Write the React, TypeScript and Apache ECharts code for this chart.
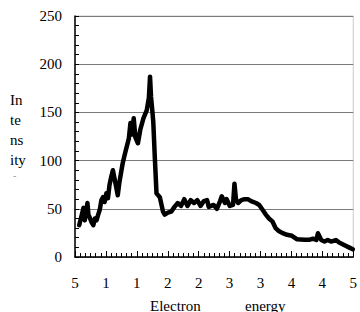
import React, { useEffect, useRef } from "react";
import * as echarts from "echarts";

const xTickLabels = ["5", "1", "1", "2", "2", "3", "3", "4", "4", "5"];
const yTicks = [0, 50, 100, 150, 200, 250];
const yTitleLines = ["In", "te", "ns", "ity"];
const xTitleWords = ["Electron", "energy"];

const positions = [
  0.136, 0.222, 0.275, 0.316, 0.402, 0.434, 0.475, 0.538, 0.592, 0.642, 0.696, 0.75, 0.801,
  0.854, 0.908, 0.959, 1.013, 1.066, 1.117, 1.171, 1.225, 1.275, 1.329, 1.383, 1.434, 1.487,
  1.541, 1.592, 1.646, 1.687, 1.741, 1.794, 1.845, 1.899, 1.953, 2.035, 2.111, 2.215, 2.32,
  2.389, 2.427, 2.459, 2.5, 2.532, 2.585, 2.636, 2.744, 2.848, 2.902, 3.006, 3.111, 3.218,
  3.323, 3.427, 3.535, 3.639, 3.744, 3.851, 3.956, 4.06, 4.168, 4.272, 4.326, 4.484, 4.589,
  4.693, 4.747, 4.851, 4.905, 5.009, 5.111, 5.158, 5.206, 5.275, 5.38, 5.484, 5.592, 5.696,
  5.854, 5.959, 6.066, 6.171, 6.275, 6.383, 6.487, 6.592, 6.699, 6.858, 7.016, 7.174, 7.437,
  7.595, 7.699, 7.807, 7.858, 7.965, 8.07, 8.174, 8.282, 8.44, 8.544, 8.703, 8.861, 8.987,
];
const intensity = [
  33, 44, 51, 38, 56, 44, 41, 36, 33, 40, 38, 44, 49,
  59, 62, 57, 66, 61, 75, 83, 90, 82, 73, 64, 77, 87,
  97, 104, 111, 116, 123, 139, 127, 144, 124, 118, 132, 144, 152,
  165, 187, 166, 152, 140, 101, 66, 62, 47, 44, 46, 47, 52,
  56, 53, 60, 53, 59, 56, 59, 53, 58, 59, 52, 54, 50,
  58, 63, 56, 60, 53, 54, 76, 60, 56, 59, 60, 60, 58,
  56, 54, 49, 44, 40, 37, 30, 27, 25, 23, 22, 18.5, 18,
  18, 19, 17.6, 24.6, 17.6, 16, 17.6, 16, 17.6, 15, 12.5, 10, 8,
];

const FONT = "Liberation Serif";

export default function App() {
  const ref = useRef<HTMLDivElement>(null);
  useEffect(() => {
    if (!ref.current) return;
    document.body.style.margin = "0";
    const chart = echarts.init(ref.current, null, { renderer: "svg" });
    const data = positions.map((p, i) => [p, intensity[i]]);
    chart.setOption({
      animation: false,
      textStyle: { fontFamily: FONT, fontStyle: "normal", fontWeight: "normal" },
      grid: {
        left: 75,
        right: 1,
        top: 16,
        bottom: 55,
        show: true,
        borderColor: "#c8c8c8",
        borderWidth: 1,
        backgroundColor: "transparent",
      },
      xAxis: {
        type: "value",
        min: 0,
        max: xTickLabels.length - 1,
        interval: 1,
        axisLine: { show: true, onZero: false, lineStyle: { color: "#000", width: 1.5 } },
        axisTick: { show: true, inside: true, length: 6, lineStyle: { color: "#000", width: 1 } },
        minorTick: { show: true, splitNumber: 6, length: 4, lineStyle: { color: "#000", width: 1 } },
        splitLine: { show: false },
        axisLabel: {
          color: "#000",
          fontFamily: FONT,
          fontStyle: "normal",
          fontWeight: "normal",
          fontSize: 15,
          margin: 18,
          formatter: (v: number) => xTickLabels[Math.round(v)] ?? "",
        },
      },
      yAxis: {
        type: "value",
        min: yTicks[0],
        max: yTicks[yTicks.length - 1],
        interval: 50,
        axisLine: { show: true, lineStyle: { color: "#000", width: 1.5 } },
        axisTick: { show: true, inside: true, length: 4, lineStyle: { color: "#000", width: 1 } },
        minorTick: { show: true, splitNumber: 5, length: 4, lineStyle: { color: "#000", width: 1 } },
        splitLine: { show: true, lineStyle: { color: "#7a7a7a", width: 1 } },
        axisLabel: {
          color: "#000",
          fontFamily: FONT,
          fontStyle: "normal",
          fontWeight: "normal",
          fontSize: 15,
          margin: 13,
        },
      },
      graphic: [
        ...yTitleLines.map((t, i) => ({
          type: "text",
          left: 10,
          top: 92 + i * 20,
          style: { text: t, fill: "#000", fontFamily: FONT, fontWeight: "normal", fontSize: 15 },
        })),
        {
          type: "text",
          left: 13,
          top: 170,
          style: { text: "-", fill: "#999", fontFamily: FONT, fontSize: 10 },
        },
        {
          type: "text",
          left: 150,
          top: 298,
          style: { text: xTitleWords[0], fill: "#000", fontFamily: FONT, fontWeight: "normal", fontSize: 15 },
        },
        {
          type: "text",
          left: 245,
          top: 298,
          style: { text: xTitleWords[1], fill: "#000", fontFamily: FONT, fontWeight: "normal", fontSize: 15 },
        },
      ],
      series: [
        {
          type: "line",
          data,
          showSymbol: false,
          symbol: "none",
          lineStyle: { color: "#000", width: 4.5, join: "round", cap: "round" },
          clip: false,
        },
      ],
    });
    return () => chart.dispose();
  }, []);
  return <div ref={ref} style={{ width: 360, height: 312, fontFamily: FONT }} />;
}
